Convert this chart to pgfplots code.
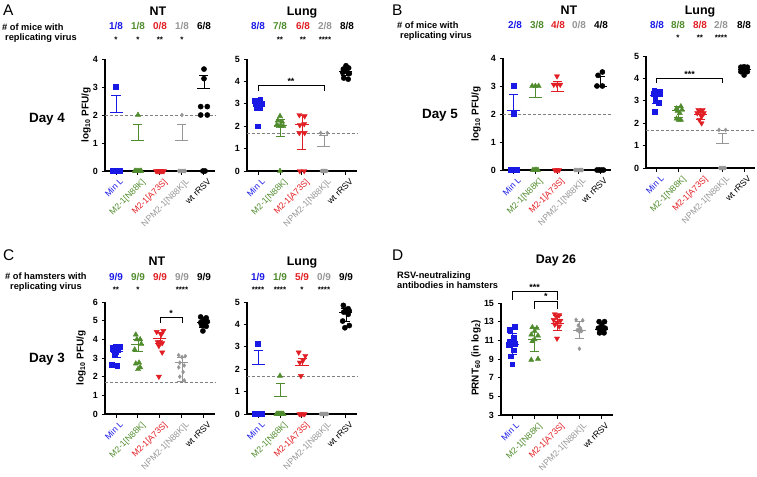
\documentclass[border=0pt]{standalone}
\usepackage{pgfplots}
\pgfplotsset{compat=1.18}
\usepackage{fontspec}
\setmainfont{Liberation Sans}
\newcommand\fs[1]{\fontsize{#1}{#1}\selectfont}
\definecolor{cB}{RGB}{25,25,230}
\definecolor{cG}{RGB}{80,140,45}
\definecolor{cR}{RGB}{225,30,35}
\definecolor{cY}{RGB}{150,150,150}
\definecolor{cK}{RGB}{0,0,0}
\pgfplotsset{
  panel/.style={scale only axis, width=#1, height=112bp,
    axis x line*=bottom, axis y line*=left,
    axis line style={line width=1.1bp, black},
    xmin=-0.5, xmax=4.5, xtick={0,1,2,3,4},
    xticklabels={{\textcolor{cB}{Min L}},{\textcolor{cG}{M2-1[N88K]}},{\textcolor{cR}{M2-1[A73S]}},{\textcolor{cY}{NPM2-1[N88K]L}},{\textcolor{cK}{wt rRSV}}},
    x tick label style={font=\fs{8.7}, rotate=45, anchor=north east, inner sep=1bp, yshift=-3.5bp, xshift=1bp},
    y tick label style={font=\bfseries\fs{9}},
    /pgf/number format/assume math mode=true,
    tick align=outside, major tick length=3.5bp,
    tick style={line width=1bp, black},
    clip=false,
  },
  pB/.style={only marks, mark=square*, mark size=2.4bp, color=cB},
  pG/.style={only marks, mark=triangle*, mark size=3bp, color=cG},
  pR/.style={only marks, mark=triangle*, mark size=3bp, color=cR, mark options={rotate=180}},
  pY/.style={only marks, mark=diamond*, mark size=2bp, color=cY},
  pK/.style={only marks, mark=*, mark size=2.6bp, color=cK},
  msd/.style={only marks, color=#1, mark=-, mark size=6.5bp, line width=0.8bp,
     error bars/.cd, y dir=both, y explicit,
     error bar style={line width=0.8bp, color=#1},
     error mark options={rotate=90, mark size=4.5bp, line width=0.8bp, color=#1}},
  lod/.style={densely dashed, color=gray, line width=0.5bp, no marks},
  brk/.style={black, line width=0.9bp, no marks},
}
\begin{document}
\begin{tikzpicture}
\useasboundingbox (0,0) rectangle (757bp,-477bp);
% ---------------- A NT
\begin{axis}[panel=110bp, at={(105bp,-171bp)}, anchor=south west, ymin=0, ymax=4, ytick={0,1,2,3,4}]
\addplot[lod] coordinates {(-0.5,2) (4.5,2)};
\addplot[pB] coordinates {(0,3.0) (-0.15,0) (-0.1,0) (-0.05,0) (0,0) (0.05,0) (0.1,0) (0.15,0)};
\addplot[msd=cB] coordinates {(0,2.1) += (0,0.6) -= (0,0)};
\addplot[pG] coordinates {(1,2.0) (0.85,0) (0.9,0) (0.95,0) (1,0) (1.05,0) (1.1,0) (1.15,0)};
\addplot[msd=cG] coordinates {(1,1.11) += (0,0.55) -= (0,0)};
\addplot[pR] coordinates {(1.82,0) (1.87,0) (1.92,0) (1.97,0) (2.03,0) (2.08,0) (2.13,0) (2.18,0)};
\addplot[pY] coordinates {(3,2.0) (2.85,0) (2.9,0) (2.95,0) (3,0) (3.05,0) (3.1,0) (3.15,0)};
\addplot[msd=cY] coordinates {(3,1.11) += (0,0.55) -= (0,0)};
\addplot[pK] coordinates {(4,3.64) (4,3.3) (3.85,2.3) (4.15,2.3) (3.85,2.0) (4.15,2.0) (3.95,0) (4.05,0)};
\addplot[msd=cK] coordinates {(4,2.94) += (0,0.46) -= (0,0)};
\end{axis}
% ---------------- A Lung
\begin{axis}[panel=110bp, at={(247bp,-171bp)}, anchor=south west, ymin=0, ymax=5, ytick={0,1,2,3,4,5}]
\addplot[lod] coordinates {(-0.5,1.7) (4.5,1.7)};
\addplot[pB] coordinates {(-0.15,3.15) (0.1,3.2) (0,3.1) (-0.1,3.0) (0.15,3.0) (-0.05,2.85) (0.1,2.85) (0,2.0)};
\addplot[msd=cB] coordinates {(0,3.0) += (0,0.2) -= (0,0.3)};
\addplot[pG] coordinates {(1,2.45) (0.9,2.25) (1.1,2.2) (0.85,2.05) (0.95,2.0) (1.05,2.0) (1.15,2.0) (1,0)};
\addplot[msd=cG] coordinates {(1,2.05) += (0,0.25) -= (0,0.5)};
\addplot[pR] coordinates {(1.88,2.5) (2.12,2.45) (2.1,2.1) (1.9,2.05) (1.88,1.7) (2.12,1.7) (1.9,0) (2.1,0)};
\addplot[msd=cR] coordinates {(2,2.1) += (0,0.38) -= (0,1.15)};
\addplot[pY] coordinates {(2.85,1.7) (3.15,1.7) (2.88,0) (2.93,0) (2.98,0) (3.03,0) (3.08,0) (3.13,0)};
\addplot[msd=cY] coordinates {(3,1.12) += (0,0.48) -= (0,0)};
\addplot[pK] coordinates {(4,4.7) (3.88,4.55) (4.12,4.6) (4,4.45) (3.85,4.4) (4.15,4.35) (3.9,4.15) (4.1,4.1)};
\addplot[msd=cK] coordinates {(4,4.45) += (0,0.15) -= (0,0.2)};
\addplot[brk] coordinates {(0,3.55) (0,3.8) (3,3.8) (3,3.55)};
\node[anchor=south, inner sep=1bp, font=\bfseries\fs{9}] at (axis cs:1.5,3.8) {**};
\end{axis}
% ---------------- B NT
\begin{axis}[panel=108bp, at={(503bp,-170bp)}, anchor=south west, ymin=0, ymax=4, ytick={0,1,2,3,4}]
\addplot[lod] coordinates {(-0.5,2) (4.5,2)};
\addplot[pB] coordinates {(0,3.0) (0,2.0) (-0.13,0) (-0.08,0) (-0.03,0) (0.03,0) (0.08,0) (0.13,0)};
\addplot[msd=cB] coordinates {(0,2.12) += (0,0.58) -= (0,0)};
\addplot[pG] coordinates {(0.85,3.0) (1,3.0) (1.15,3.0) (0.88,0) (0.94,0) (1,0) (1.06,0) (1.12,0)};
\addplot[msd=cG] coordinates {(1,2.58) += (0,0.42) -= (0,0)};
\addplot[pR] coordinates {(2,3.35) (1.85,3.05) (2,3.05) (2.15,3.05) (1.9,0) (1.97,0) (2.03,0) (2.1,0)};
\addplot[msd=cR] coordinates {(2,2.81) += (0,0.34) -= (0,0)};
\addplot[pY] coordinates {(2.82,0) (2.87,0) (2.92,0) (2.97,0) (3.03,0) (3.08,0) (3.13,0) (3.18,0)};
\addplot[pK] coordinates {(4.1,3.5) (3.9,3.38) (3.85,3.0) (4.1,3.0) (3.85,0) (3.95,0) (4.05,0) (4.15,0)};
\addplot[msd=cK] coordinates {(4,2.97) += (0,0.38) -= (0,0)};
\end{axis}
% ---------------- B Lung
\begin{axis}[panel=109bp, at={(646bp,-168bp)}, anchor=south west, ymin=0, ymax=5, ytick={0,1,2,3,4,5}]
\addplot[lod] coordinates {(-0.5,1.7) (4.5,1.7)};
\addplot[pB] coordinates {(-0.12,3.45) (0.12,3.42) (0,3.38) (0.15,3.3) (-0.15,3.3) (-0.08,3.05) (0.08,2.9) (-0.1,2.5)};
\addplot[msd=cB] coordinates {(0,3.25) += (0,0.25) -= (0,0.35)};
\addplot[pG] coordinates {(1.1,2.75) (0.9,2.65) (1.15,2.6) (0.95,2.55) (1.05,2.45) (0.9,2.2) (1.1,2.15) (1,2.15)};
\addplot[msd=cG] coordinates {(1,2.55) += (0,0.22) -= (0,0.3)};
\addplot[pR] coordinates {(1.9,2.6) (2.1,2.6) (2,2.5) (1.85,2.45) (2.15,2.45) (2.05,2.3) (1.95,2.15) (2.05,2.0)};
\addplot[msd=cR] coordinates {(2,2.4) += (0,0.2) -= (0,0.22)};
\addplot[pY] coordinates {(2.85,1.7) (3.15,1.7) (2.88,0) (2.93,0) (2.98,0) (3.03,0) (3.08,0) (3.13,0)};
\addplot[msd=cY] coordinates {(3,1.12) += (0,0.43) -= (0,0)};
\addplot[pK] coordinates {(3.85,4.5) (4,4.52) (4.15,4.5) (3.9,4.4) (4.1,4.4) (3.85,4.3) (4.15,4.3) (4,4.15)};
\addplot[msd=cK] coordinates {(4,4.38) += (0,0.1) -= (0,0.1)};
\addplot[brk] coordinates {(0,3.8) (0,4.0) (3,4.0) (3,3.8)};
\node[anchor=south, inner sep=1bp, font=\bfseries\fs{9}] at (axis cs:1.5,4.0) {***};
\end{axis}
% ---------------- C NT
\begin{axis}[panel=110bp, at={(105bp,-414bp)}, anchor=south west, ymin=0, ymax=6, ytick={0,1,2,3,4,5,6}]
\addplot[lod] coordinates {(-0.5,1.7) (4.5,1.7)};
\addplot[pB] coordinates {(-0.15,3.55) (0,3.62) (0.15,3.6) (-0.1,3.45) (0.1,3.45) (0,3.35) (-0.05,3.25) (-0.2,2.65) (0.05,2.6)};
\addplot[msd=cB] coordinates {(0,3.35) += (0,0.22) -= (0,0.3)};
\addplot[pG] coordinates {(0.9,4.25) (1.1,4.0) (0.95,4.0) (1.15,3.75) (0.85,3.45) (1.05,2.75) (0.9,2.7) (1.1,2.5) (1,2.4)};
\addplot[msd=cG] coordinates {(1,3.72) += (0,0.3) -= (0,0.35)};
\addplot[pR] coordinates {(1.85,4.4) (2.15,4.45) (2.05,4.25) (1.9,3.85) (2,3.85) (2.1,3.8) (1.95,3.65) (2.1,3.3) (1.95,2.0)};
\addplot[msd=cR] coordinates {(2,4.05) += (0,0.3) -= (0,0.28)};
\addplot[pY] coordinates {(2.85,3.15) (3.15,3.1) (3,3.05) (2.9,2.75) (3.1,2.6) (2.85,2.5) (3.05,2.25) (2.9,2.0) (3.1,1.8)};
\addplot[msd=cY] coordinates {(3,2.75) += (0,0.3) -= (0,1.0)};
\addplot[pK] coordinates {(3.85,5.2) (4.1,5.15) (4,5.05) (3.85,4.9) (4.15,4.95) (4,4.8) (3.9,4.75) (4.1,4.7) (3.95,4.45)};
\addplot[msd=cK] coordinates {(4,4.9) += (0,0.22) -= (0,0.25)};
\addplot[brk] coordinates {(2,4.87) (2,5.16) (3,5.16) (3,4.87)};
\node[anchor=south, inner sep=1bp, font=\bfseries\fs{9}] at (axis cs:2.5,5.16) {*};
\end{axis}
% ---------------- C Lung
\begin{axis}[panel=110bp, at={(247bp,-414bp)}, anchor=south west, ymin=0, ymax=5, ytick={0,1,2,3,4,5}]
\addplot[lod] coordinates {(-0.5,1.7) (4.5,1.7)};
\addplot[pB] coordinates {(0,3.15) (-0.16,0) (-0.12,0) (-0.07,0) (-0.02,0) (0.02,0) (0.07,0) (0.12,0) (0.16,0)};
\addplot[msd=cB] coordinates {(0,2.22) += (0,0.6) -= (0,0)};
\addplot[pG] coordinates {(1,1.7) (0.84,0) (0.88,0) (0.93,0) (0.98,0) (1.02,0) (1.07,0) (1.12,0) (1.16,0)};
\addplot[msd=cG] coordinates {(1,0.8) += (0,0.55) -= (0,0)};
\addplot[pR] coordinates {(1.85,2.75) (2.15,2.6) (2.05,2.4) (1.9,2.3) (1.95,1.7) (1.88,0) (1.95,0) (2.05,0) (2.12,0)};
\addplot[msd=cR] coordinates {(2,2.15) += (0,0.35) -= (0,0)};
\addplot[pY] coordinates {(2.84,0) (2.88,0) (2.92,0) (2.96,0) (3,0) (3.04,0) (3.08,0) (3.12,0) (3.16,0)};
\addplot[pK] coordinates {(3.88,4.85) (4.1,4.7) (4,4.65) (4.15,4.6) (3.9,4.55) (4.1,4.45) (3.85,4.15) (4.15,3.95) (3.95,3.85)};
\addplot[msd=cK] coordinates {(4,4.55) += (0,0.15) -= (0,0.4)};
\end{axis}
% ---------------- D
\begin{axis}[panel=112bp, at={(501bp,-415bp)}, anchor=south west, ymin=3, ymax=15, ytick={3,5,7,9,11,13,15}]
\addplot[pB] coordinates {(0.12,12.45) (-0.12,12.15) (0.05,11.3) (-0.1,10.9) (0.1,10.6) (-0.15,10.5) (0.05,9.95) (-0.05,9.3) (0,8.45)};
\addplot[msd=cB] coordinates {(0,10.6) += (0,1.1) -= (0,1.1)};
\addplot[pG] coordinates {(0.9,12.4) (1.1,12.3) (1,12.0) (0.85,11.6) (1.15,11.5) (1,11.1) (0.9,10.9) (0.85,8.9) (1.15,9.0)};
\addplot[msd=cG] coordinates {(1,11.1) += (0,1.3) -= (0,1.3)};
\addplot[pR] coordinates {(1.9,13.8) (2.1,13.7) (2,13.5) (1.85,13.2) (2.15,13.1) (2,12.9) (1.9,12.7) (2.1,12.5) (2,11.2)};
\addplot[msd=cR] coordinates {(2,12.85) += (0,0.8) -= (0,0.8)};
\addplot[pY] coordinates {(2.85,13.2) (3.15,13.15) (2.95,12.6) (3.05,12.3) (2.9,12.1) (3.1,12.0) (3,11.9) (3,12.2) (3,10.1)};
\addplot[msd=cY] coordinates {(3,12.1) += (0,0.9) -= (0,0.9)};
\addplot[pK] coordinates {(3.88,13.0) (4.12,13.0) (4,12.6) (3.85,12.3) (4.15,12.3) (3.95,12.1) (4.05,12.0) (3.9,11.8) (4.1,11.8)};
\addplot[msd=cK] coordinates {(4,12.2) += (0,0.7) -= (0,0.4)};
\addplot[brk] coordinates {(0,15.3) (0,16.2) (2,16.2) (2,15.3)};
\node[anchor=south, inner sep=1bp, font=\bfseries\fs{9}] at (axis cs:1,16.2) {***};
\addplot[brk] coordinates {(1,14.4) (1,15.2) (2,15.2) (2,14.4)};
\node[anchor=south, inner sep=1bp, font=\bfseries\fs{9}] at (axis cs:1.5,15.2) {*};
\end{axis}
% ---------------- texts
\begin{scope}[x=1bp,y=-1bp]
\tikzset{let/.style={anchor=base west, inner sep=0, font=\fs{15.5}},
  ttl/.style={anchor=base, inner sep=0, font=\bfseries\fs{12.5}},
  hdr/.style={anchor=base west, inner sep=0, font=\bfseries\fs{9.3}},
  day/.style={anchor=base, inner sep=0, font=\bfseries\fs{13.5}},
  ylab/.style={rotate=90, anchor=center, inner sep=0, font=\bfseries\fs{10}},
  frac/.style={anchor=base, inner sep=0, font=\bfseries\fs{10}},
  st/.style={anchor=base, inner sep=0, font=\bfseries\fs{8}}}
\node[let] at (3,15) {A};
\node[let] at (392,15) {B};
\node[let] at (3,260) {C};
\node[let] at (392,260) {D};
\node[ttl] at (158,15) {NT};
\node[ttl] at (302,15) {Lung};
\node[ttl] at (569,14) {NT};
\node[ttl] at (700,14) {Lung};
\node[ttl] at (157,265) {NT};
\node[ttl] at (302,265) {Lung};
\node[ttl] at (556,263) {Day 26};
\node[hdr] at (2,30) {\# of mice with};
\node[hdr] at (5,40) {replicating virus};
\node[hdr] at (397,28) {\# of mice with};
\node[hdr] at (400,38) {replicating virus};
\node[hdr] at (5,279) {\# of hamsters with};
\node[hdr] at (10,289) {replicating virus};
\node[hdr] at (397,278) {RSV-neutralizing};
\node[hdr] at (397,288) {antibodies in hamsters};
\node[day] at (47,122) {Day 4};
\node[day] at (440,118) {Day 5};
\node[day] at (47,362) {Day 3};
\node[ylab] at (86,115) {log\textsubscript{10} PFU/g};
\node[ylab] at (476,114) {log\textsubscript{10} PFU/g};
\node[ylab] at (81,358) {log\textsubscript{10} PFU/g};
\node[ylab] at (476,358) {PRNT\textsubscript{60} (in log\textsubscript{2})};
% fractions A
\node[frac, text=cB] at (116,29.5) {1/8};
\node[frac, text=cG] at (138,29.5) {1/8};
\node[frac, text=cR] at (160,29.5) {0/8};
\node[frac, text=cY] at (182,29.5) {1/8};
\node[frac, text=cK] at (204,29.5) {6/8};
\node[st] at (116,42) {*};
\node[st] at (138,42) {*};
\node[st] at (160,42) {**};
\node[st] at (182,42) {*};
\node[frac, text=cB] at (258,29.5) {8/8};
\node[frac, text=cG] at (280,29.5) {7/8};
\node[frac, text=cR] at (303,29.5) {6/8};
\node[frac, text=cY] at (325,29.5) {2/8};
\node[frac, text=cK] at (347,29.5) {8/8};
\node[st] at (280,42) {**};
\node[st] at (303,42) {**};
\node[st] at (325,42) {****};
% fractions B
\node[frac, text=cB] at (515,28.5) {2/8};
\node[frac, text=cG] at (537,28.5) {3/8};
\node[frac, text=cR] at (558,28.5) {4/8};
\node[frac, text=cY] at (579,28.5) {0/8};
\node[frac, text=cK] at (601,28.5) {4/8};
\node[frac, text=cB] at (657,28.5) {8/8};
\node[frac, text=cG] at (678,28.5) {8/8};
\node[frac, text=cR] at (700,28.5) {8/8};
\node[frac, text=cY] at (721,28.5) {2/8};
\node[frac, text=cK] at (744,28.5) {8/8};
\node[st] at (678,40) {*};
\node[st] at (700,40) {**};
\node[st] at (721,40) {****};
% fractions C
\node[frac, text=cB] at (116,280.5) {9/9};
\node[frac, text=cG] at (138,280.5) {9/9};
\node[frac, text=cR] at (160,280.5) {9/9};
\node[frac, text=cY] at (182,280.5) {9/9};
\node[frac, text=cK] at (204,280.5) {9/9};
\node[st] at (116,292) {**};
\node[st] at (138,292) {*};
\node[st] at (182,292) {****};
\node[frac, text=cB] at (258,280.5) {1/9};
\node[frac, text=cG] at (280,280.5) {1/9};
\node[frac, text=cR] at (302,280.5) {5/9};
\node[frac, text=cY] at (324,280.5) {0/9};
\node[frac, text=cK] at (346,280.5) {9/9};
\node[st] at (258,292) {****};
\node[st] at (280,292) {****};
\node[st] at (302,292) {*};
\node[st] at (324,292) {****};
\end{scope}
\end{tikzpicture}
\end{document}
